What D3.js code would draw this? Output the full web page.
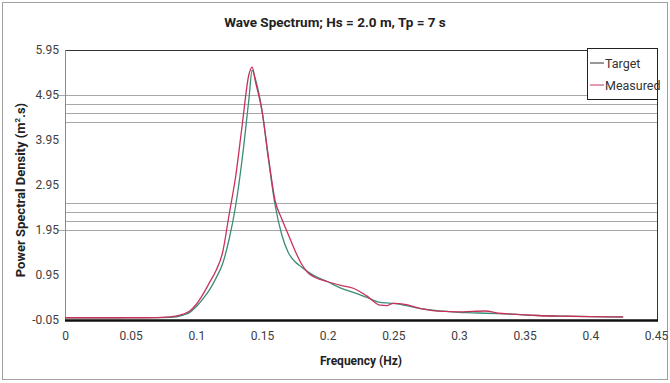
<!DOCTYPE html>
<html>
<head>
<meta charset="utf-8">
<script src="https://cdn.jsdelivr.net/npm/d3@7"></script>
<style>
body { margin: 0; background: #fff; }
svg { display: block; font-family: "Liberation Sans Narrow", Roboto, sans-serif; }
</style>
</head>
<body>
<svg width="670" height="383"></svg>
<script>
// data
var freq = [0, 0.02, 0.04, 0.06, 0.08, 0.09, 0.095, 0.1, 0.105, 0.11, 0.115, 0.12, 0.125, 0.13, 0.135, 0.14, 0.1425, 0.145, 0.15, 0.155, 0.16, 0.165, 0.17, 0.175, 0.18, 0.185, 0.19, 0.2, 0.21, 0.22, 0.23, 0.24, 0.245, 0.25, 0.26, 0.27, 0.28, 0.29, 0.3, 0.31, 0.32, 0.33, 0.34, 0.36, 0.38, 0.4, 0.425];
var target = [0, 0, 0, 0.003, 0.01, 0.06, 0.12, 0.25, 0.42, 0.62, 0.88, 1.2, 1.75, 2.5, 3.55, 4.85, 5.5, 5.3, 4.6, 3.5, 2.5, 1.85, 1.45, 1.25, 1.13, 1.02, 0.93, 0.8, 0.66, 0.56, 0.45, 0.34, 0.33, 0.32, 0.27, 0.21, 0.17, 0.14, 0.12, 0.11, 0.1, 0.09, 0.08, 0.05, 0.035, 0.025, 0.015];
var measured = [0, 0, 0, 0, 0.02, 0.08, 0.15, 0.3, 0.52, 0.78, 1.05, 1.45, 2.3, 3.15, 4.3, 5.4, 5.57, 5.25, 4.6, 3.55, 2.6, 2.2, 1.85, 1.5, 1.2, 1.0, 0.9, 0.8, 0.72, 0.65, 0.48, 0.28, 0.27, 0.32, 0.29, 0.21, 0.16, 0.14, 0.13, 0.14, 0.15, 0.1, 0.08, 0.05, 0.035, 0.025, 0.02];
var xTicks = [0, 0.05, 0.1, 0.15, 0.2, 0.25, 0.3, 0.35, 0.4, 0.45];
var yTicks = [-0.05, 0.95, 1.95, 2.95, 3.95, 4.95, 5.95];
var gridValues = [4.95, 4.75, 4.55, 4.35, 2.55, 2.35, 2.15, 1.95];
var seriesNames = ["Target", "Measured"];
var seriesColors = ["#3a8c78", "#c8325a"];

var svg = d3.select('svg');

// outer frame
svg.append('rect')
  .attr('x', 2.5).attr('y', 2.5)
  .attr('width', 665).attr('height', 377)
  .attr('fill', 'none').attr('stroke', '#a0a0a0');

// scales
var xScale = d3.scaleLinear().domain([0, 0.45]).range([65, 656]);
var yScale = d3.scaleLinear().domain([-0.05, 5.95]).range([320, 50]);

// odd horizontal gridlines
svg.selectAll('.grid')
  .data(gridValues)
  .enter()
  .append('line')
  .attr('class', 'grid')
  .attr('x1', d => (d == 4.95 || d == 1.95) ? 58 : 65)
  .attr('x2', 657)
  .attr('y1', d => Math.round(yScale(d)) + 0.5)
  .attr('y2', d => Math.round(yScale(d)) + 0.5)
  .attr('stroke', '#a8a8a8')
  .attr('stroke-width', 1);

// plot border
svg.append('line').attr('x1', 65).attr('x2', 657).attr('y1', 50.5).attr('y2', 50.5).attr('stroke', '#333');
svg.append('line').attr('x1', 657.5).attr('x2', 657.5).attr('y1', 50).attr('y2', 320).attr('stroke', '#333');
svg.append('line').attr('x1', 65.5).attr('x2', 65.5).attr('y1', 50).attr('y2', 320).attr('stroke', '#8a8a8a');

// axes
var xAxisGroup = svg.append('g')
  .attr('transform', 'translate(0,' + yScale(-0.05) + ')');
var xAxis = d3.axisBottom(xScale).tickValues(xTicks).tickSize(0).tickPadding(11)
  .tickFormat(d => String(+d.toFixed(2)));
xAxisGroup.call(xAxis);
xAxisGroup.select('.domain').remove();

var yAxisGroup = svg.append('g')
  .attr('transform', 'translate(65,0)');
var yAxis = d3.axisLeft(yScale).tickValues(yTicks).tickSize(0).tickPadding(6)
  .tickFormat(d => d.toFixed(2));
yAxisGroup.call(yAxis);
yAxisGroup.select('.domain').remove();

svg.selectAll('.tick text')
  .attr('font-family', '"Liberation Sans Narrow", Roboto, sans-serif')
  .attr('font-size', 12)
  .attr('fill', '#404040');

// series
var line = d3.line()
  .x((d, i) => xScale(freq[i]))
  .y(d => yScale(d))
  .curve(d3.curveMonotoneX);

svg.append('path')
  .datum(target)
  .attr('d', line)
  .attr('fill', 'none')
  .attr('stroke', seriesColors[0])
  .attr('stroke-width', 1.3);

svg.append('path')
  .datum(measured)
  .attr('d', line)
  .attr('fill', 'none')
  .attr('stroke', seriesColors[1])
  .attr('stroke-width', 1.3);

// thick baseline
svg.append('line')
  .attr('x1', 65).attr('x2', 658)
  .attr('y1', yScale(-0.05) + 0.5).attr('y2', yScale(-0.05) + 0.5)
  .attr('stroke', '#111').attr('stroke-width', 2.5);

// title and axis labels
svg.append('text')
  .text('Wave Spectrum; Hs = 2.0 m, Tp = 7 s')
  .attr('x', 335).attr('y', 27)
  .attr('text-anchor', 'middle')
  .attr('font-weight', 'bold')
  .attr('font-size', 13.5)
  .attr('fill', '#222');

svg.append('text')
  .text('Frequency (Hz)')
  .attr('x', 361).attr('y', 365)
  .attr('text-anchor', 'middle')
  .attr('font-weight', 'bold')
  .attr('font-size', 12)
  .attr('fill', '#222');

var yLabel = svg.append('text')
  .attr('transform', 'translate(25,190) rotate(-90)')
  .attr('text-anchor', 'middle')
  .attr('font-weight', 'bold')
  .attr('font-size', 13)
  .attr('fill', '#222');
yLabel.append('tspan').text('Power Spectral Density (m');
yLabel.append('tspan').text('2').attr('font-size', 8).attr('dy', -5);
yLabel.append('tspan').text('.s)').attr('dy', 5);

// legend
var legend = svg.append('g').attr('transform', 'translate(587,48)');
legend.append('rect')
  .attr('x', 0.5).attr('y', 0.5)
  .attr('width', 70).attr('height', 51)
  .attr('fill', '#fff').attr('stroke', '#222');
var item = legend.selectAll('.item')
  .data(seriesNames)
  .enter()
  .append('g')
  .attr('class', 'item')
  .attr('transform', (d, i) => 'translate(0,' + (15 + i * 22) + ')');
item.append('line')
  .attr('x1', 3).attr('x2', 17)
  .attr('stroke', (d, i) => i == 0 ? '#333' : seriesColors[1])
  .attr('stroke-width', 1);
item.append('text')
  .text(d => d)
  .attr('x', 18).attr('y', 4.5)
  .attr('font-size', 12.5)
  .attr('fill', '#333');
</script>
</body>
</html>
